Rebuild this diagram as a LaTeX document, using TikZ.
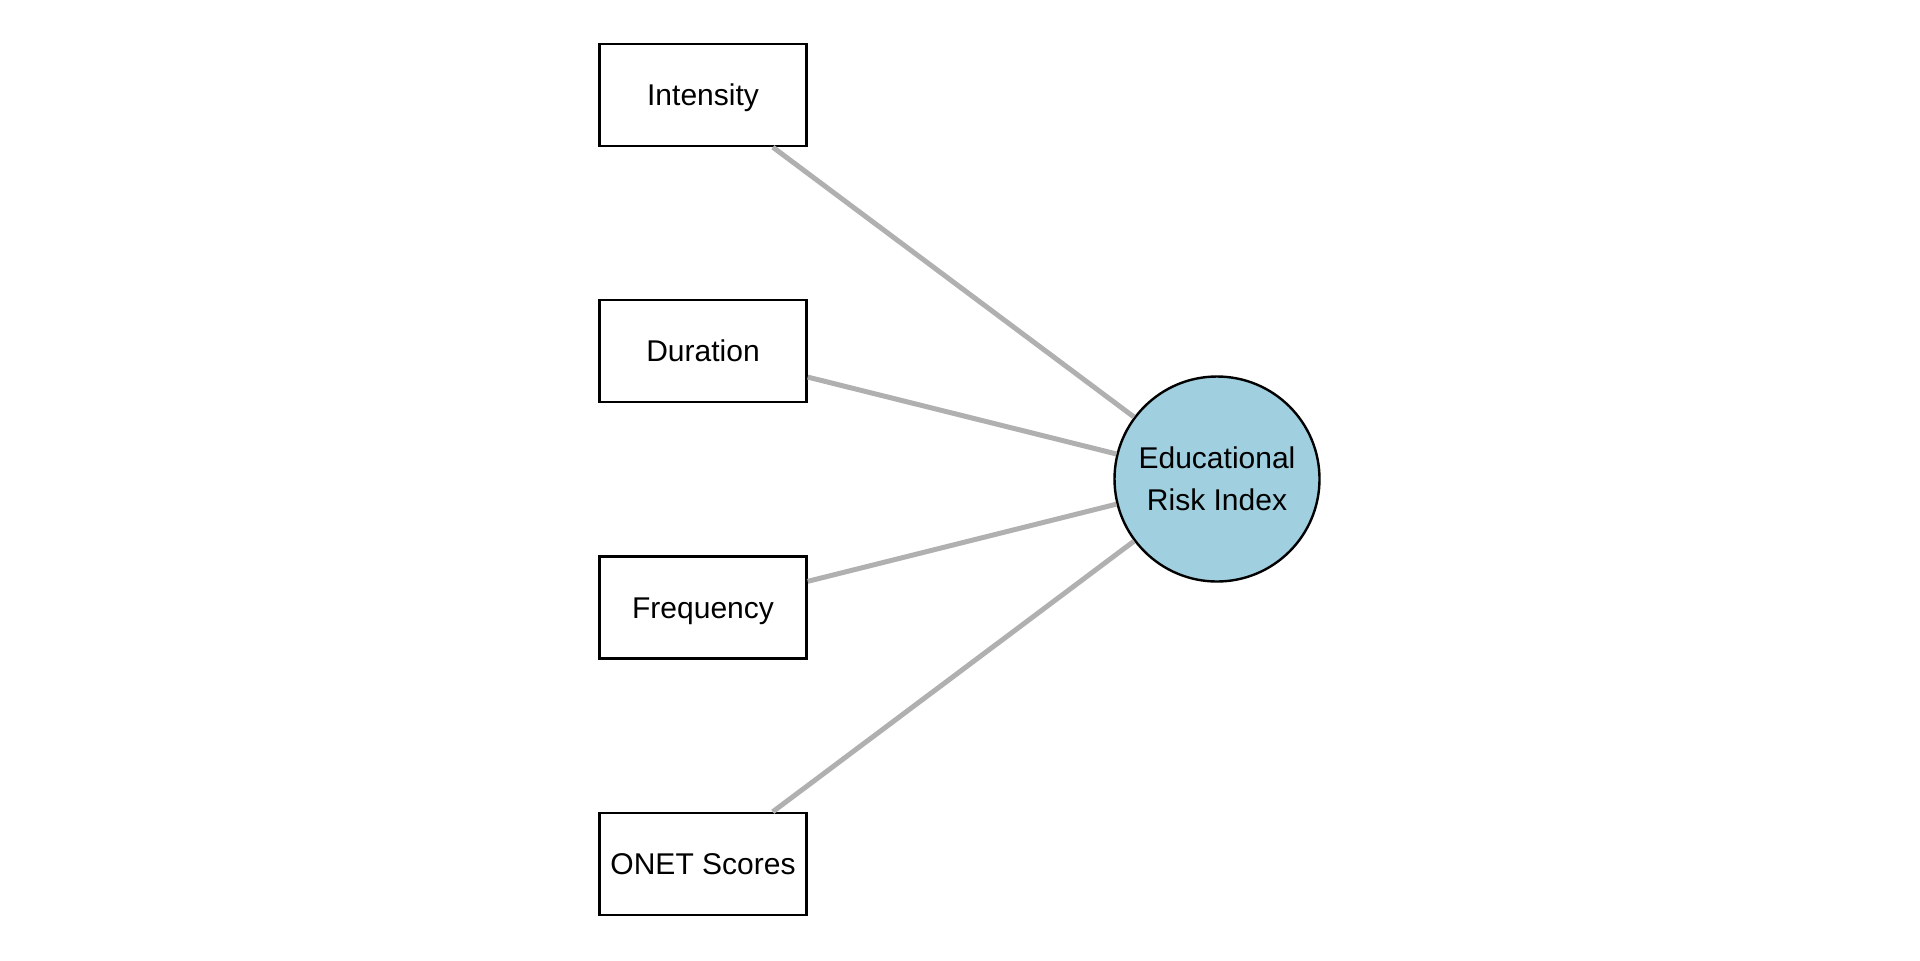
\documentclass[tikz,border=0pt]{standalone}
\usepackage{fontspec}
\setmainfont{Liberation Sans}
\definecolor{circfill}{RGB}{160,207,223}
\definecolor{edgegray}{RGB}{176,176,176}
\begin{document}
\begin{tikzpicture}[x=0.5pt,y=-0.5pt,
  box/.style={draw=black,line width=1.2pt,fill=white,minimum width=103.5pt,minimum height=51pt,inner sep=0pt,text height=10.8pt,text depth=0pt,font=\fontsize{15}{18}\selectfont},
  hub/.style={circle,draw=black,line width=1.2pt,fill=circfill,minimum size=102.5pt,inner sep=0pt,align=center,font=\fontsize{15}{20.8}\selectfont},
  edge/.style={draw=edgegray,line width=2.5pt}]
\useasboundingbox (0,0) rectangle (1920,960);
\node[hub] (eri) at (1217,479) {Educational\\Risk Index};
\node[box] (int) at (703,95) {Intensity};
\node[box] (dur) at (703,351) {Duration};
\node[box] (fre) at (703,607.5) {Frequency};
\node[box] (onet) at (703,864) {ONET Scores};
\draw[edge] (int) -- (eri);
\draw[edge] (dur) -- (eri);
\draw[edge] (fre) -- (eri);
\draw[edge] (onet) -- (eri);
\end{tikzpicture}
\end{document}
